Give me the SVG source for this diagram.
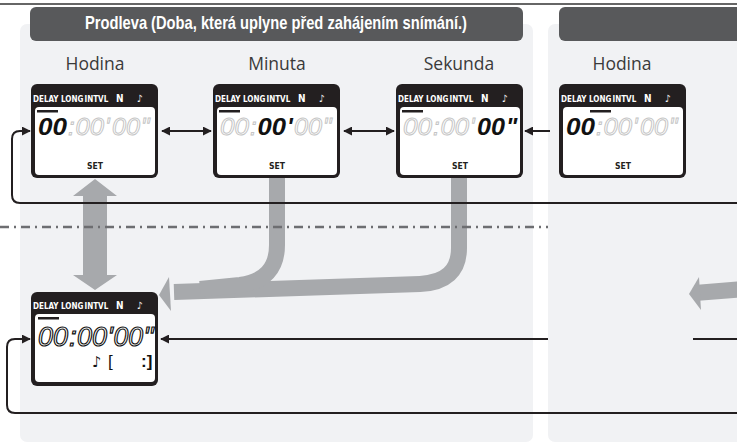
<svg xmlns="http://www.w3.org/2000/svg" width="737" height="445" viewBox="0 0 737 445">
<style>
.panel{fill:#f1f2f4}
.hdr{fill:#58595b}
.title{font-family:"Liberation Sans Narrow","Liberation Sans",Arial,sans-serif;font-weight:bold;font-size:18.5px;fill:#fff}
.lbl{font-family:"Open Sans","Liberation Sans",sans-serif;font-size:17.5px;fill:#3a3a3a;text-anchor:middle}
.frame{fill:#231f20}
.lcd{fill:#fff}
.top{font-family:"DejaVu Sans Condensed","Liberation Sans",sans-serif;font-weight:bold;font-size:8px;fill:#fff}
.sym{font-family:"DejaVu Sans Condensed","DejaVu Sans",sans-serif;font-weight:bold;font-size:10px;fill:#fff}
.set{font-family:"DejaVu Sans Condensed","Liberation Sans",sans-serif;font-weight:bold;font-size:8.5px;fill:#231f20;text-anchor:middle}
.dg{font-family:"Liberation Sans",Arial,sans-serif;font-style:italic;font-size:24px}
.on{fill:#111;font-weight:bold}
.off{fill:none;stroke:#c4c4c4;stroke-width:0.9}
.out{fill:none;stroke:#111;stroke-width:1.2;font-size:28px}
.bar{fill:#231f20}
.conn{fill:none;stroke:#231f20;stroke-width:2}
.gray{fill:#a7a9ac}
.gline{fill:none;stroke:#a7a9ac;stroke-width:16}
.dash{fill:none;stroke:#6d6e71;stroke-width:2.5;stroke-dasharray:9 5 2 5}
</style>
<defs>
<marker id="ah" viewBox="0 0 10 10" refX="9" refY="5" markerWidth="9" markerHeight="9" markerUnits="userSpaceOnUse" orient="auto-start-reverse">
<path d="M0,0 L10,5 L0,10 z" fill="#231f20"/>
</marker>
</defs>
<rect width="737" height="445" fill="#fff"/>
<line x1="0" y1="4" x2="737" y2="4" stroke="#333" stroke-width="1.5"/>

<g id="panel1">
<rect class="panel" x="20" y="24" width="513" height="418" rx="7"/>
<rect class="hdr" x="30" y="7" width="493" height="34" rx="6"/>
<text class="title" x="85" y="29" textLength="382" lengthAdjust="spacingAndGlyphs">Prodleva (Doba, která uplyne před zahájením snímání.)</text>
<text class="lbl" x="95" y="70">Hodina</text>
<text class="lbl" x="277" y="70">Minuta</text>
<text class="lbl" x="459" y="70">Sekunda</text>
</g>
<g id="panel2">
<rect class="panel" x="548" y="24" width="200" height="418" rx="7"/>
<rect class="hdr" x="559" y="7" width="190" height="34" rx="6"/>
<text class="lbl" x="622" y="70">Hodina</text>
</g>

<g id="gray-arrows">
<polygon class="gray" points="95,179 117,196 107,196 107,275 117,275 95,290 73,275 83,275 83,196 73,196"/>
<path class="gline" d="M459 178 L459 248 Q459 282 420 284 L174 292"/>
<path class="gline" d="M277 178 L277 245 Q277 280 240 285 L200 289"/>
<polygon class="gray" points="159,295 169,277 171,311"/>
<path class="gline" d="M745 289 L695 293"/>
<polygon class="gray" points="689,294 699,277 701,310"/>
</g>

<line class="dash" x1="0" y1="227" x2="548" y2="227"/>

<g id="connectors">
<path class="conn" d="M162 131 L211 131" marker-start="url(#ah)" marker-end="url(#ah)"/>
<path class="conn" d="M344 131 L394 131" marker-start="url(#ah)" marker-end="url(#ah)"/>
<path class="conn" d="M550 131 L525 131" marker-end="url(#ah)"/>
<path class="conn" d="M737 203 L20 203 Q12 203 12 195 L12 139 Q12 131 20 131 L30 131" marker-end="url(#ah)"/>
<path class="conn" d="M548 339 L161 339" marker-end="url(#ah)"/>
<path class="conn" d="M693 339 L737 339"/>
<path class="conn" d="M737 413 L15 413 Q7 413 7 405 L7 347 Q7 339 15 339 L30 339" marker-end="url(#ah)"/>
</g>

<g id="box-hodina">
<rect class="frame" x="31" y="84" width="127" height="94" rx="6"/>
<rect class="lcd" x="35" y="107" width="120" height="68" rx="4"/>
<text class="top" x="33" y="102">DELAY</text>
<text class="top" x="61" y="102">LONG</text>
<text class="top" x="84.5" y="102">INTVL</text>
<text class="sym" x="116" y="102">N</text>
<text class="sym" x="137" y="102">♪</text>
<rect class="bar" x="37" y="110" width="21" height="2.5"/>
<text class="dg on" x="38" y="135" textLength="29" lengthAdjust="spacingAndGlyphs">00</text>
<text class="dg off" x="68" y="135">:</text>
<text class="dg off" x="75.5" y="135" textLength="28.5" lengthAdjust="spacingAndGlyphs">00</text>
<text class="dg off" x="105" y="135">'</text>
<text class="dg off" x="112" y="135" textLength="28" lengthAdjust="spacingAndGlyphs">00</text>
<text class="dg off" x="141" y="135">"</text>
<text class="set" x="95" y="169">SET</text>
</g>

<g id="box-minuta">
<rect class="frame" x="213" y="84" width="127" height="94" rx="6"/>
<rect class="lcd" x="217" y="107" width="120" height="68" rx="4"/>
<text class="top" x="215" y="102">DELAY</text>
<text class="top" x="243" y="102">LONG</text>
<text class="top" x="266.5" y="102">INTVL</text>
<text class="sym" x="298" y="102">N</text>
<text class="sym" x="319" y="102">♪</text>
<rect class="bar" x="219" y="110" width="21" height="2.5"/>
<text class="dg off" x="220" y="135" textLength="29" lengthAdjust="spacingAndGlyphs">00</text>
<text class="dg off" x="250" y="135">:</text>
<text class="dg on" x="257.5" y="135" textLength="28.5" lengthAdjust="spacingAndGlyphs">00</text>
<text class="dg on" x="287" y="135">'</text>
<text class="dg off" x="294" y="135" textLength="28" lengthAdjust="spacingAndGlyphs">00</text>
<text class="dg off" x="323" y="135">"</text>
<text class="set" x="277" y="169">SET</text>
</g>

<g id="box-sekunda">
<rect class="frame" x="396" y="84" width="127" height="94" rx="6"/>
<rect class="lcd" x="400" y="107" width="120" height="68" rx="4"/>
<text class="top" x="398" y="102">DELAY</text>
<text class="top" x="426" y="102">LONG</text>
<text class="top" x="449.5" y="102">INTVL</text>
<text class="sym" x="481" y="102">N</text>
<text class="sym" x="502" y="102">♪</text>
<rect class="bar" x="402" y="110" width="21" height="2.5"/>
<text class="dg off" x="403" y="135" textLength="29" lengthAdjust="spacingAndGlyphs">00</text>
<text class="dg off" x="433" y="135">:</text>
<text class="dg off" x="440.5" y="135" textLength="28.5" lengthAdjust="spacingAndGlyphs">00</text>
<text class="dg off" x="470" y="135">'</text>
<text class="dg on" x="477" y="135" textLength="28" lengthAdjust="spacingAndGlyphs">00</text>
<text class="dg on" x="506" y="135">"</text>
<text class="set" x="460" y="169">SET</text>
</g>

<g id="box-hodina-2">
<rect class="frame" x="559" y="84" width="127" height="94" rx="6"/>
<rect class="lcd" x="563" y="107" width="120" height="68" rx="4"/>
<text class="top" x="561" y="102">DELAY</text>
<text class="top" x="589" y="102">LONG</text>
<text class="top" x="612.5" y="102">INTVL</text>
<text class="sym" x="644" y="102">N</text>
<text class="sym" x="665" y="102">♪</text>
<rect class="bar" x="590" y="110" width="21" height="2.5"/>
<text class="dg on" x="566" y="135" textLength="29" lengthAdjust="spacingAndGlyphs">00</text>
<text class="dg off" x="596" y="135">:</text>
<text class="dg off" x="603.5" y="135" textLength="28.5" lengthAdjust="spacingAndGlyphs">00</text>
<text class="dg off" x="633" y="135">'</text>
<text class="dg off" x="640" y="135" textLength="28" lengthAdjust="spacingAndGlyphs">00</text>
<text class="dg off" x="669" y="135">"</text>
<text class="set" x="623" y="169">SET</text>
</g>

<g id="box-vysledek">
<rect class="frame" x="31" y="292" width="127" height="94" rx="6"/>
<rect class="lcd" x="35" y="314" width="120" height="68" rx="4"/>
<text class="top" x="33" y="309">DELAY</text>
<text class="top" x="61" y="309">LONG</text>
<text class="top" x="84.5" y="309">INTVL</text>
<text class="sym" x="116" y="309">N</text>
<text class="sym" x="137" y="309">♪</text>
<rect class="bar" x="38" y="317" width="21" height="2.5"/>
<text class="dg out" x="38" y="346" textLength="30" lengthAdjust="spacingAndGlyphs">00</text>
<text class="dg out" x="69" y="346">:</text>
<text class="dg out" x="77" y="346" textLength="30" lengthAdjust="spacingAndGlyphs">00</text>
<text class="dg out" x="107.5" y="346">'</text>
<text class="dg out" x="113.5" y="346" textLength="29.5" lengthAdjust="spacingAndGlyphs">00</text>
<text class="dg out" x="143.5" y="346">"</text>
<text x="92" y="367" font-family="DejaVu Sans, sans-serif" font-size="15" fill="#111">♪</text>
<text x="108" y="367" font-family="Liberation Sans, sans-serif" font-size="17" fill="#111">[</text>
<text x="141" y="367" font-family="Liberation Sans, sans-serif" font-size="17" font-weight="bold" fill="#111">:]</text>
</g>
</svg>
